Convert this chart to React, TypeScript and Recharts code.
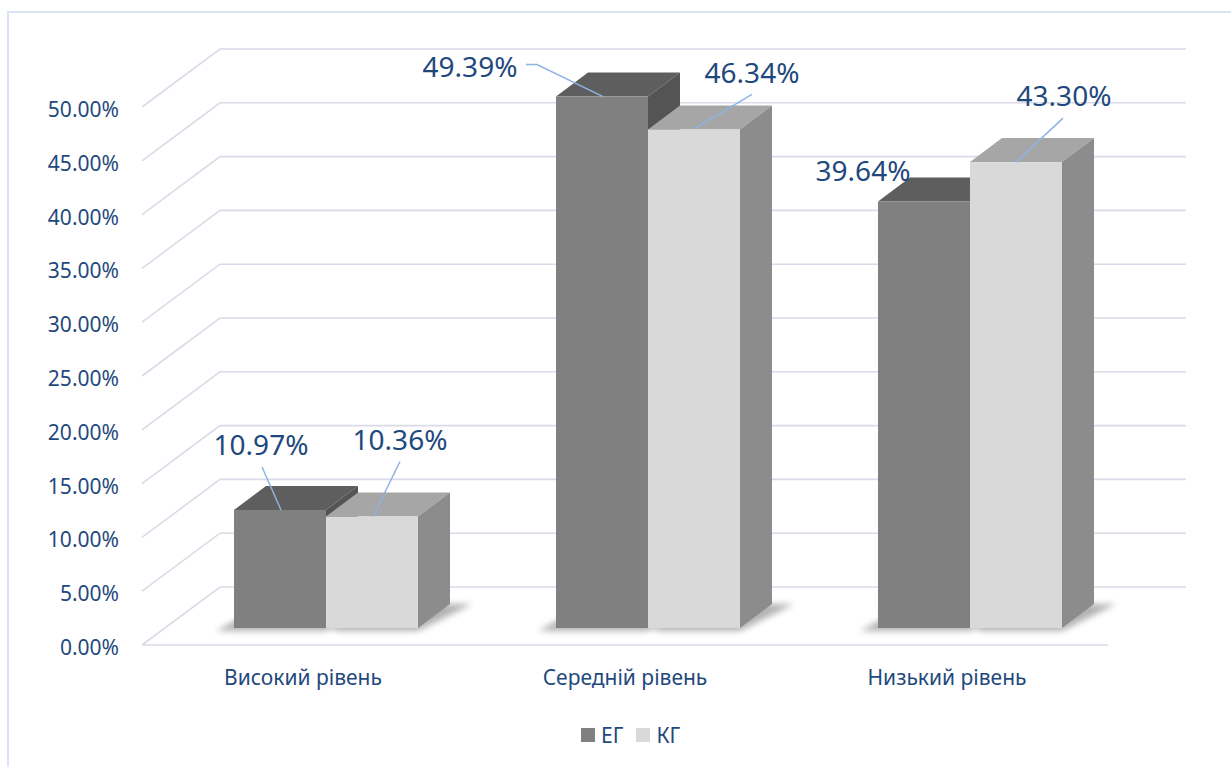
import React from 'react';
import { BarChart, Bar, XAxis, YAxis, CartesianGrid, Legend, LabelList } from 'recharts';

const categories = ['Високий рівень', 'Середній рівень', 'Низький рівень'];
const egValues = [10.97, 49.39, 39.64];
const kgValues = [10.36, 46.34, 43.3];
const yTicks = [0, 5, 10, 15, 20, 25, 30, 35, 40, 45, 50];

const data = categories.map((name, i) => ({ name, eg: egValues[i], kg: kgValues[i] }));

const TEXT = '#1F497D';
const FONT = '"Noto Sans", sans-serif';
const GRID = '#d9dce8';
const LEADER = '#8db4e2';

// fake 3d: offsets of the front edge / back wall relative to the plane the bars stand in
const FRONT = { dx: -23, dy: 17 };
const BACK = { dx: 55, dy: -41 };
const DEPTH = { dx: 32, dy: -24 };

const COLORS = {
  eg: { front: '#808080', top: '#5e5e5e', side: '#545454' },
  kg: { front: '#d9d9d9', top: '#a6a6a6', side: '#8c8c8c' },
};

// where each data label sits, relative to the top centre of the bar's front face
const egLabelPos = [
  { dx: -19, dy: -65, leader: [[-18, -43], [1, 0]] },
  { dx: -132, dy: -30, leader: [[-76, -32], [-65, -32], [1, 0]] },
  { dx: -61, dy: -30, leader: [] as number[][] },
];
const kgLabelPos = [
  { dx: 28, dy: -77, leader: [[28, -55], [1, 0]] },
  { dx: 58, dy: -56, leader: [[58, -35], [1, -1]] },
  { dx: 48, dy: -66, leader: [[47, -44], [0, 0]] },
];

const fmt = (v: number) => `${v.toFixed(2)}%`;

const renderGridLine = (props: any) => {
  const { x1, x2, y1, index, horizontalPoints, y, height } = props;
  const floorY = horizontalPoints && horizontalPoints.length ? Math.max(...horizontalPoints) : y + height;
  let d = `M${x1 + FRONT.dx},${y1 + FRONT.dy} L${x1 + BACK.dx},${y1 + BACK.dy} L${x2 + BACK.dx},${y1 + BACK.dy}`;
  if (Math.abs(y1 - floorY) < 1) {
    d += ` M${x1 + FRONT.dx},${y1 + FRONT.dy} L${x2 + FRONT.dx},${y1 + FRONT.dy}`;
  }
  return <path key={`grid-${index}`} d={d} fill="none" stroke={GRID} strokeWidth={1.6} />;
};

const makePrism = (c: { front: string; top: string; side: string }, key: string, shadowLeft: number) => (props: any) => {
  const { x, y, width: w, height: h, index } = props;
  const base = y + h;
  const { dx, dy } = DEPTH;
  const fid = `shadow-${key}-${index}`;
  const pts = (arr: number[][]) => arr.map((p) => p.join(',')).join(' ');
  return (
    <g>
      <defs>
        <filter id={fid} x="-20%" y="-50%" width="140%" height="200%">
          <feGaussianBlur stdDeviation={3} />
        </filter>
      </defs>
      <polygon
        points={pts([[x + shadowLeft, base + 3], [x + w, base + 3], [x + w + dx + 22, base + dy], [x + dx, base + dy]])}
        fill="#000"
        opacity={0.3}
        filter={`url(#${fid})`}
      />
      <polygon points={pts([[x, y], [x + w, y], [x + w + dx, y + dy], [x + dx, y + dy]])} fill={c.top} />
      <polygon points={pts([[x + w, y], [x + w + dx, y + dy], [x + w + dx, base + dy], [x + w, base]])} fill={c.side} />
      <rect x={x} y={y} width={w} height={h} fill={c.front} />
    </g>
  );
};

const makeLabel = (pos: typeof egLabelPos) => (props: any) => {
  const vb = props.viewBox || props;
  const x = vb.x ?? props.x;
  const y = vb.y ?? props.y;
  const w = vb.width ?? props.width;
  const p = pos[props.index];
  if (!p) return null;
  const cx = x + w / 2;
  const leader = p.leader.map(([lx, ly]) => `${cx + lx},${y + ly}`).join(' ');
  return (
    <g key={`lbl-${props.index}`}>
      {p.leader.length > 1 && <polyline points={leader} fill="none" stroke={LEADER} strokeWidth={1.5} />}
      <text x={cx + p.dx} y={y + p.dy + 10} textAnchor="middle" fill={TEXT} fontSize={28} fontFamily={FONT}>
        {fmt(props.value)}
      </text>
    </g>
  );
};

const YTick = (props: any) => {
  const { x, y, payload } = props;
  return (
    <text x={x - 46} y={y + FRONT.dy + 10} textAnchor="end" fill={TEXT} fontSize={21} fontFamily={FONT}>
      {fmt(payload.value)}
    </text>
  );
};

const XTick = (props: any) => {
  const { x, y, payload } = props;
  return (
    <text x={x + FRONT.dx} y={y + 57} textAnchor="middle" fill={TEXT} fontSize={21} fontFamily={FONT}>
      {payload.value}
    </text>
  );
};

const renderLegend = (props: any) => {
  const { payload = [] } = props;
  return (
    <div style={{ display: 'flex', alignItems: 'center', fontFamily: FONT, fontSize: 21, color: TEXT, lineHeight: '24px' }}>
      {payload.map((item: any, i: number) => (
        <div key={i} style={{ display: 'flex', alignItems: 'center', marginRight: 13 }}>
          <span style={{ width: 14, height: 14, background: item.color, marginRight: 6, display: 'inline-block' }} />
          <span>{item.value}</span>
        </div>
      ))}
    </div>
  );
};

export default function App() {
  return (
    <div style={{ position: 'fixed', left: 0, top: 0, width: 1231, height: 767, background: '#fff' }}>
      <div
        style={{
          position: 'absolute',
          left: 7,
          top: 11,
          width: 1230,
          height: 770,
          borderLeft: '2px solid #dae4f3',
          borderTop: '2px solid #dae4f3',
        }}
      />
      <BarChart
        width={1231}
        height={767}
        data={data}
        margin={{ top: 90, right: 100, bottom: 109, left: 0 }}
        barSize={92}
        barGap={0}
      >
        <CartesianGrid vertical={false} horizontal={renderGridLine} />
        <XAxis dataKey="name" axisLine={false} tickLine={false} tickSize={0} tickMargin={0} height={30} tick={<XTick />} />
        <YAxis
          domain={[0, 50]}
          ticks={yTicks}
          width={165}
          axisLine={false}
          tickLine={false}
          tickSize={0}
          tickMargin={0}
          tick={<YTick />}
        />
        <Legend
          verticalAlign="middle"
          align="center"
          content={renderLegend}
          wrapperStyle={{ top: 723, left: 581, width: 'auto', height: 'auto' }}
        />
        <Bar dataKey="eg" name="ЕГ" fill={COLORS.eg.front} shape={makePrism(COLORS.eg, 'eg', -18)} isAnimationActive={false}>
          <LabelList dataKey="eg" content={makeLabel(egLabelPos)} />
        </Bar>
        <Bar dataKey="kg" name="КГ" fill={COLORS.kg.front} shape={makePrism(COLORS.kg, 'kg', 6)} isAnimationActive={false}>
          <LabelList dataKey="kg" content={makeLabel(kgLabelPos)} />
        </Bar>
      </BarChart>
    </div>
  );
}
